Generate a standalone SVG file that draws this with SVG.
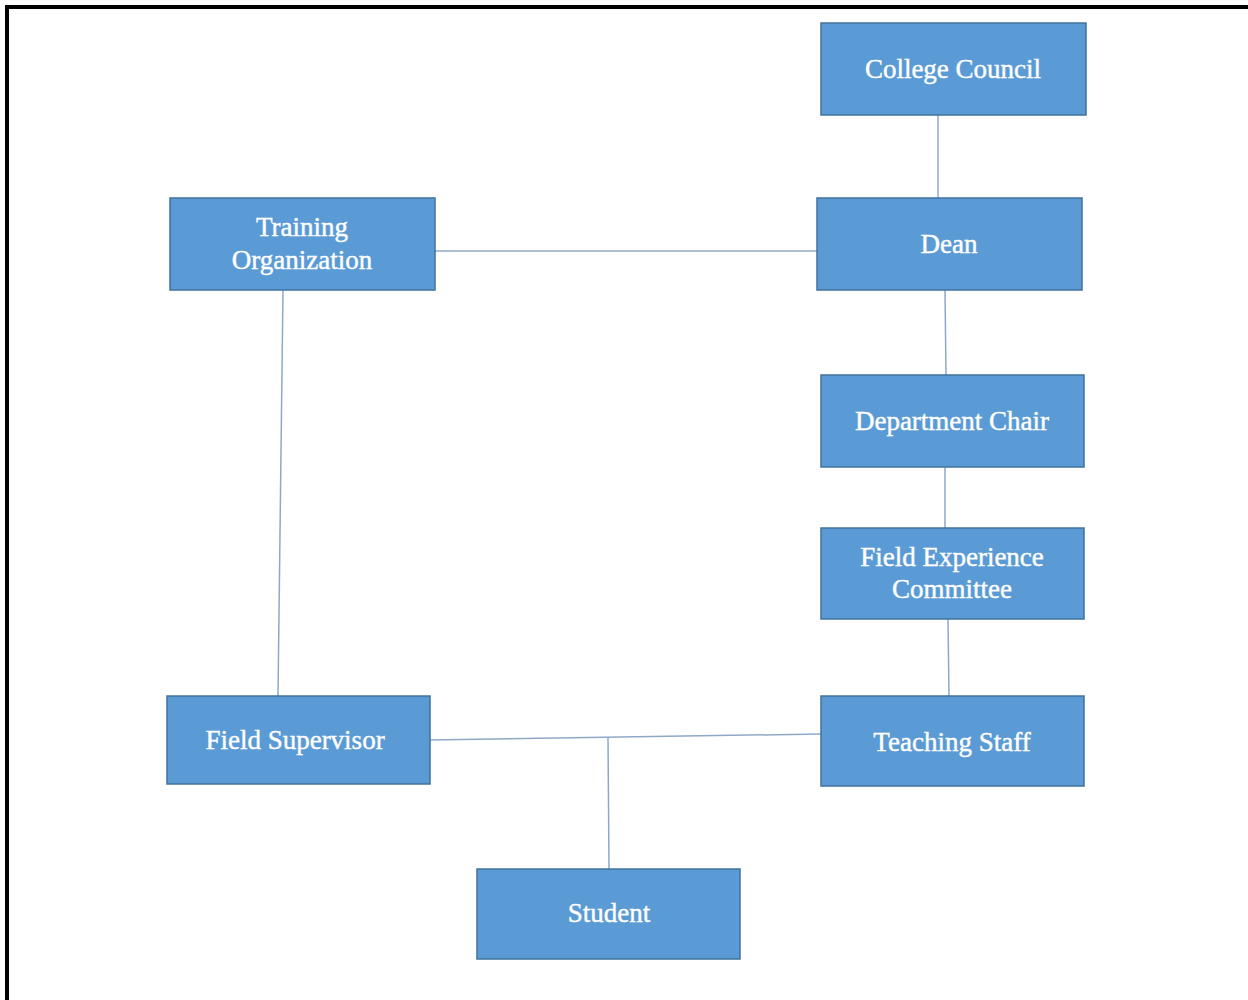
<svg xmlns="http://www.w3.org/2000/svg" width="1248" height="1000" viewBox="0 0 1248 1000">
<style>
.box{fill:#5B9BD5;stroke:#41719C;stroke-width:1.5}
.lbl{font-family:"Liberation Serif","Times New Roman",serif;font-size:27px;fill:#FFFFFF;stroke:#FFFFFF;stroke-width:0.4;text-anchor:middle;dominant-baseline:central}
.edge{stroke:#8FA8C8;stroke-width:1.5;fill:none}
</style>
<rect width="1248" height="1000" fill="#FFFFFF"/>
<path d="M7 1000 V7 H1248" fill="none" stroke="#000000" stroke-width="4"/>
<g id="connectors">
<line class="edge" x1="938" y1="115" x2="938" y2="198"/>
<line class="edge" x1="435" y1="251" x2="817" y2="251"/>
<line class="edge" x1="945" y1="290" x2="946" y2="375"/>
<line class="edge" x1="945" y1="467" x2="945" y2="528"/>
<line class="edge" x1="948" y1="619" x2="949" y2="696"/>
<line class="edge" x1="283" y1="290" x2="278" y2="696"/>
<line class="edge" x1="430" y1="740" x2="821" y2="734"/>
<line class="edge" x1="608" y1="737" x2="609" y2="869"/>
</g>
<g id="college-council"><rect class="box" x="821" y="23" width="265" height="92"/><text class="lbl" x="953" y="69">College Council</text></g>
<g id="dean"><rect class="box" x="817" y="198" width="265" height="92"/><text class="lbl" x="949" y="244">Dean</text></g>
<g id="training-organization"><rect class="box" x="170" y="198" width="265" height="92"/><text class="lbl" x="302" y="227">Training</text><text class="lbl" x="302" y="260">Organization</text></g>
<g id="department-chair"><rect class="box" x="821" y="375" width="263" height="92"/><text class="lbl" x="952" y="421">Department Chair</text></g>
<g id="field-experience-committee"><rect class="box" x="821" y="528" width="263" height="91"/><text class="lbl" x="952" y="557">Field Experience</text><text class="lbl" x="952" y="589">Committee</text></g>
<g id="teaching-staff"><rect class="box" x="821" y="696" width="263" height="90"/><text class="lbl" x="952" y="742">Teaching Staff</text></g>
<g id="field-supervisor"><rect class="box" x="167" y="696" width="263" height="88"/><text class="lbl" x="295" y="740">Field Supervisor</text></g>
<g id="student"><rect class="box" x="477" y="869" width="263" height="90"/><text class="lbl" x="609" y="913">Student</text></g>
</svg>
